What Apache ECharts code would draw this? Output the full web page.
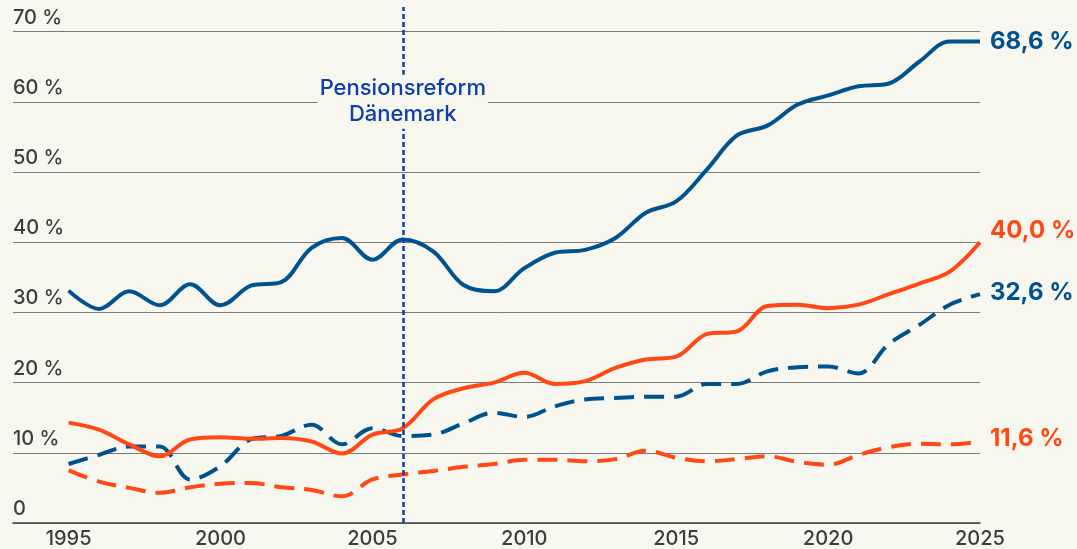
<!DOCTYPE html>
<html>
<head>
<meta charset="utf-8">
<script src="https://cdn.jsdelivr.net/npm/echarts@6/dist/echarts.min.js"></script>
<style>
  html, body { margin: 0; padding: 0; background: #f8f7ef; }
  #chart { width: 1077px; height: 549px; }
</style>
</head>
<body>
<div id="chart"></div>
<script>
const years = [1995, 1996, 1997, 1998, 1999, 2000, 2001, 2002, 2003, 2004, 2005,
  2006, 2007, 2008, 2009, 2010, 2011, 2012, 2013, 2014, 2015,
  2016, 2017, 2018, 2019, 2020, 2021, 2022, 2023, 2024, 2025]
const xTicks = [1995, 2000, 2005, 2010, 2015, 2020, 2025]

// Anteile in %
const blueSolid = [33.1, 30.5, 33.0, 31.0, 34.0, 31.0, 33.8, 34.3, 39.2, 40.6, 37.5,
  40.4, 38.7, 33.9, 33.0, 36.3, 38.5, 38.9, 40.6, 44.2, 45.8,
  50.3, 55.2, 56.6, 59.6, 60.9, 62.2, 62.6, 65.7, 68.6, 68.6]
const orangeSolid = [14.3, 13.3, 11.2, 9.5, 11.9, 12.2, 12.0, 12.1, 11.6, 9.9, 12.6,
  13.5, 17.6, 19.2, 20.0, 21.4, 19.8, 20.2, 22.1, 23.3, 23.7,
  26.9, 27.3, 30.9, 31.1, 30.6, 31.1, 32.6, 34.1, 35.8, 40.0]
const blueDashed = [8.4, 9.7, 10.9, 10.9, 6.2, 8.1, 11.9, 12.4, 14.0, 11.2, 13.5,
  12.4, 12.6, 14.2, 15.7, 15.1, 16.6, 17.6, 17.8, 18.0, 18.0,
  19.8, 19.8, 21.6, 22.2, 22.3, 21.3, 25.5, 28.2, 31.1, 32.6]
const orangeDashed = [7.5, 5.9, 5.0, 4.3, 5.1, 5.6, 5.7, 5.1, 4.7, 3.8, 6.2,
  6.9, 7.4, 8.0, 8.4, 9.0, 9.0, 8.8, 9.1, 10.3, 9.3,
  8.8, 9.1, 9.5, 8.7, 8.3, 9.7, 10.8, 11.3, 11.2, 11.6]

const reformYear = 2006
const reformText = 'Pensionsreform\nDänemark'

const BG = '#f8f7ef'
const BLUE = '#00528f'
const ORANGE = '#ff4814'
const NAVY = '#0b3ea8'
const FONT = 'Inter, "Noto Sans", sans-serif'

const fmtPct = v => v.toFixed(1).replace('.', ',') + ' %'

function lineSeries(name, values, color, dashed, offset) {
  return {
    name: name,
    type: 'line',
    data: years.map((y, i) => [y, values[i]]),
    smooth: 0.35,
    symbol: 'none',
    lineStyle: { color: color, width: 4, type: dashed ? [20, 10] : 'solid' },
    endLabel: {
      show: true,
      formatter: fmtPct(values[values.length - 1]),
      color: color,
      fontFamily: FONT,
      fontWeight: 'bold',
      fontSize: 24,
      distance: 10,
      offset: offset,
    },
  }
}

const chart = echarts.init(document.getElementById('chart'))
const series = [
  lineSeries('orangeDashed', orangeDashed, ORANGE, true, [0, -3]),
  lineSeries('blueDashed', blueDashed, BLUE, true, [0, -1]),
  lineSeries('orangeSolid', orangeSolid, ORANGE, false, [0, -11]),
  lineSeries('blueSolid', blueSolid, BLUE, false, [0, 0]),
]
// Reform-Markierung
series[3].markLine = {
  silent: true,
  symbol: ['none', 'none'],
  label: { show: false },
  lineStyle: { color: NAVY, width: 2.5, type: [5, 3] },
  data: [[{ coord: [reformYear, 0] }, { coord: [reformYear, 73.5] }]],
}
series[3].markPoint = {
  silent: true,
  symbol: 'rect',
  symbolSize: 1,
  itemStyle: { color: 'rgba(0,0,0,0)' },
  label: {
    show: true,
    position: 'inside',
    formatter: reformText,
    color: NAVY,
    fontFamily: FONT,
    fontWeight: 500,
    fontSize: 22,
    lineHeight: 26,
    align: 'center',
    backgroundColor: BG,
    padding: [1, 2],
  },
  data: [{ coord: [reformYear, 60] }],
}

chart.setOption({
  animation: false,
  backgroundColor: BG,
  grid: { left: 13, right: 97, top: 7, bottom: 26 },
  xAxis: {
    type: 'value',
    min: 1993.17,
    max: 2025,
    splitLine: { show: false },
    axisTick: { show: false },
    axisLine: { lineStyle: { color: '#444', width: 1.5 } },
    axisLabel: {
      customValues: xTicks,
      formatter: v => String(v),
      margin: 6,
      fontSize: 20,
      fontWeight: 500,
      color: '#3d3d3d',
      fontFamily: FONT,
    },
  },
  yAxis: {
    type: 'value',
    min: 0,
    max: 73.5,
    interval: 10,
    axisLine: { show: false },
    axisTick: { show: false },
    splitLine: { showMaxLine: false, lineStyle: { color: '#7a7a7a', width: 1 } },
    axisLabel: {
      inside: true,
      margin: 0,
      showMaxLabel: false,
      verticalAlign: 'bottom',
      lineHeight: 20,
      padding: [0, 0, 4, 0],
      formatter: v => (v === 0 ? '0' : v + ' %'),
      fontSize: 20,
      fontWeight: 500,
      color: '#3d3d3d',
      fontFamily: FONT,
    },
  },
  series: series,
})
</script>
</body>
</html>
